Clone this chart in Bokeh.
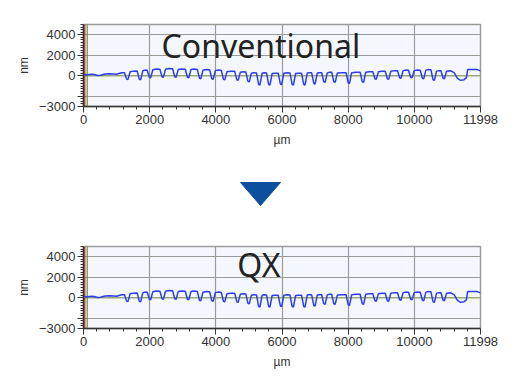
from bokeh.plotting import figure
from bokeh.models import Range1d, FixedTicker, Span, Label
from bokeh.layouts import column
from bokeh.embed import file_html
from bokeh.resources import INLINE

# ---- data ----
x_um = [0, 120, 250, 330, 420, 520, 650, 780, 900, 1000, 1150,
        1238, 1303, 1343, 1408, 1515,
        1622, 1687, 1727, 1792, 1860,
        1925, 1990, 2030, 2095, 2200,
        2309, 2374, 2414, 2479, 2590,
        2693, 2758, 2798, 2863, 2970,
        3076, 3141, 3181, 3246, 3340,
        3440, 3505, 3545, 3610, 3710,
        3814, 3879, 3919, 3984, 4075,
        4165, 4230, 4270, 4335, 4450,
        4570, 4635, 4675, 4740, 4820,
        4905, 4970, 5010, 5075, 5150,
        5228, 5293, 5333, 5398, 5465,
        5531, 5596, 5636, 5701, 5790,
        5885, 5950, 5990, 6055, 6150,
        6240, 6305, 6345, 6410, 6500,
        6591, 6656, 6696, 6761, 6830,
        6895, 6960, 7000, 7065, 7130,
        7198, 7263, 7303, 7368, 7435,
        7501, 7566, 7606, 7671, 7800,
        7935, 8000, 8040, 8105, 8230,
        8360, 8425, 8465, 8530, 8640,
        8743, 8808, 8848, 8913, 9015,
        9118, 9183, 9223, 9288, 9390,
        9490, 9555, 9595, 9660, 9740,
        9823, 9888, 9928, 9993, 10085,
        10177, 10242, 10282, 10347, 10420,
        10500, 10565, 10605, 10670, 10740,
        10803, 10868, 10908, 10973, 11100,
        11200, 11300, 11400, 11500, 11570, 11610, 11800, 11900, 11998]
y_nm = [120, 100, 150, 120, 20, 40, 170, 200, 180, 150, 300,
        300, -330, -380, 380, 450,
        470, -350, -400, 480, 550,
        540, -150, -200, 580, 650,
        640, -100, -150, 640, 700,
        680, -100, -150, 600, 650,
        630, -150, -200, 600, 650,
        620, -250, -300, 540, 600,
        580, -300, -350, 500, 550,
        520, -350, -400, 400, 450,
        430, -400, -450, 350, 400,
        370, -550, -600, 250, 300,
        280, -850, -900, 250, 300,
        280, -850, -900, 220, 250,
        240, -800, -850, 250, 300,
        280, -850, -900, 220, 250,
        240, -850, -900, 260, 300,
        290, -750, -800, 260, 300,
        290, -600, -650, 280, 350,
        340, -600, -650, 260, 300,
        290, -700, -750, 300, 350,
        340, -600, -650, 350, 400,
        400, -300, -350, 400, 450,
        440, -300, -350, 450, 500,
        490, -200, -250, 500, 550,
        540, -150, -200, 500, 550,
        540, -250, -300, 550, 600,
        580, -400, -450, 450, 500,
        490, -250, -300, 450, 480,
        300, -250, -450, -380, -200, 600, 620, 600, 480]

x_major = [0, 2000, 4000, 6000, 8000, 10000, 11998]
y_major = [-3000, -2000, 0, 2000, 4000]
y_hidden_label = -2000
titles = ["Conventional", "QX"]
title_pos = [(5360, 2960), (5300, 3220)]
marker_red_x = 40
marker_green_x = 112

arrow_xs = [240, 280, 260]
arrow_ys = [26, 26, 49]

TICK_FONT = "Liberation Sans"


def make_plot(title, tpos, top_border):
    p = figure(width=508, height=top_border + 82 + 50, output_backend="svg",
               toolbar_location=None,
               x_range=Range1d(0, 11998), y_range=Range1d(-3000, 5000),
               min_border_left=83, min_border_right=28, min_border_top=top_border,
               min_border_bottom=50)
    p.background_fill_color = "#f4f8fe"
    p.border_fill_color = "white"
    p.outline_line_color = "#9a9a9a"
    p.outline_line_width = 1.5

    xt = FixedTicker(ticks=x_major, minor_ticks=[v for v in range(400, 12000, 400) if v % 2000])
    yt = FixedTicker(ticks=y_major, minor_ticks=[v for v in range(-3000, 5001, 250) if v not in y_major])
    p.xaxis.ticker = xt
    p.yaxis.ticker = yt
    p.yaxis.major_label_overrides = {y_hidden_label: ""}
    p.xgrid.ticker = FixedTicker(ticks=x_major)
    p.ygrid.ticker = FixedTicker(ticks=y_major)

    for ax in (p.xaxis[0], p.yaxis[0]):
        ax.axis_line_color = "#333333"
        ax.axis_line_width = 1.5
        ax.major_tick_line_color = "#333333"
        ax.minor_tick_line_color = "#333333"
        ax.major_tick_out = 6
        ax.major_tick_in = 0
        ax.minor_tick_out = 3
        ax.minor_tick_in = 0
        ax.major_label_text_font = TICK_FONT
        ax.major_label_text_font_size = "13px"
        ax.major_label_text_color = "#333333"
        ax.axis_label_text_font = TICK_FONT
        ax.axis_label_text_font_size = "12px"
        ax.axis_label_text_font_style = "normal"
        ax.axis_label_text_color = "#333333"
        ax.major_label_standoff = 2
    p.xaxis.axis_label = "µm"
    p.yaxis.axis_label = "nm"
    p.xaxis.axis_label_standoff = 6
    p.yaxis.axis_label_standoff = 5

    for g in (p.xgrid[0], p.ygrid[0]):
        g.grid_line_color = "#9a9a9a"
        g.grid_line_width = 1.2

    p.add_layout(Span(location=0, dimension="width", line_color="#9aa878", line_width=1.5, level="underlay"))
    p.add_layout(Span(location=marker_red_x, dimension="height", line_color="#cc2222", line_width=1.2, level="underlay"))
    p.add_layout(Span(location=marker_green_x, dimension="height", line_color="#5f9a35", line_width=1.2, level="underlay"))

    p.line(x_um, y_nm, line_color="#2b3df0", line_width=1.5)

    p.add_layout(Label(x=tpos[0], y=tpos[1], text=title, text_align="center",
                       text_baseline="alphabetic", text_font="Noto Sans",
                       text_font_size="32px", text_color="#222222"))
    return p


p1 = make_plot(titles[0], title_pos[0], 24)

# arrow panel: its frame lines up with the plot frames (page x 83..480)
pa = figure(frame_width=397, frame_height=74, output_backend="svg", toolbar_location=None,
            x_range=Range1d(83, 480), y_range=Range1d(74, 0),
            x_axis_location=None, y_axis_location=None, min_border=0)
pa.grid.visible = False
pa.outline_line_color = None
pa.background_fill_color = "white"
pa.patch(arrow_xs, arrow_ys, fill_color="#0c4f9e", line_color="#0c4f9e")

p2 = make_plot(titles[1], title_pos[1], 16)

layout = column(p1, pa, p2, spacing=0)
open("out.html", "w").write(file_html(layout, INLINE))
